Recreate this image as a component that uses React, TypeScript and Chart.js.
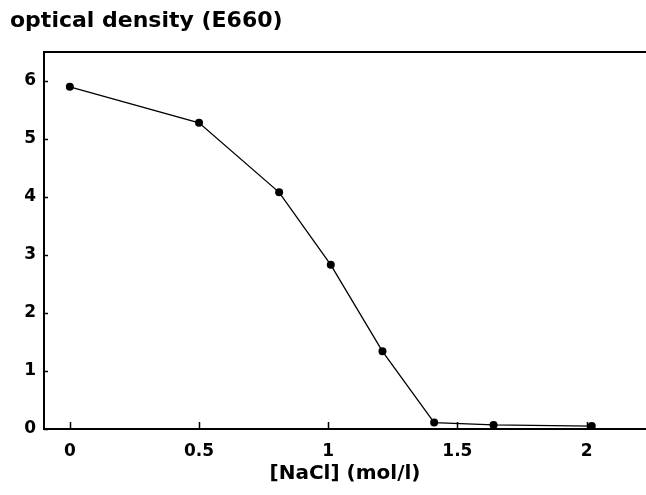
import React, { useEffect, useRef } from "react";
import { Chart, registerables } from "chart.js";

Chart.register(...registerables);

// ---- data ----
const naclConcentration = [0, 0.5, 0.81, 1.01, 1.21, 1.41, 1.64, 2.02];
const opticalDensity = [5.9, 5.28, 4.08, 2.83, 1.34, 0.11, 0.07, 0.05];

const xTickValues = [0, 0.5, 1, 1.5, 2];
const xTickLabels = ["0", "0.5", "1", "1.5", "2"];
const yTickValues = [0, 1, 2, 3, 4, 5, 6];
const yTickLabels = ["0", "1", "2", "3", "4", "5", "6"];

const chartTitle = "optical density (E660)";
const xAxisTitle = "[NaCl] (mol/l)";

const FONT = "'DejaVu Sans', 'Liberation Sans', Arial, sans-serif";

const framePlugin = {
  id: "frameAndInwardTicks",
  afterDraw(chart: any) {
    const { ctx, chartArea, scales } = chart;
    ctx.save();
    ctx.strokeStyle = "#000";
    ctx.lineWidth = 2;
    ctx.beginPath();
    ctx.moveTo(chartArea.left - 1, chartArea.top);
    ctx.lineTo(chart.width, chartArea.top);
    ctx.stroke();

    ctx.lineWidth = 1.5;
    ctx.beginPath();
    for (const v of xTickValues) {
      const px = Math.round(scales.x.getPixelForValue(v)) + 0.5;
      ctx.moveTo(px, chartArea.bottom);
      ctx.lineTo(px, chartArea.bottom - 7);
    }
    for (const v of yTickValues) {
      const py = Math.round(scales.y.getPixelForValue(v)) + 0.5;
      ctx.moveTo(chartArea.left, py);
      ctx.lineTo(chartArea.left + 4, py);
    }
    ctx.stroke();
    ctx.restore();
  },
};

const CANVAS_W = 636;
const CANVAS_H = 479;

export default function App() {
  const canvasRef = useRef<HTMLCanvasElement | null>(null);

  useEffect(() => {
    document.body.style.marginRight = "0px";
    const canvas = canvasRef.current;
    if (!canvas) return;

    const chart = new Chart(canvas, {
      type: "line",
      data: {
        datasets: [
          {
            data: naclConcentration.map((x, i) => ({ x, y: opticalDensity[i] })),
            borderColor: "#000",
            backgroundColor: "#000",
            borderWidth: 1.3,
            pointRadius: 4,
            pointBorderWidth: 0,
            pointBackgroundColor: "#000",
            tension: 0,
            fill: false,
          },
        ],
      },
      options: {
        responsive: false,
        animation: false,
        devicePixelRatio: 1,
        layout: { padding: 0, autoPadding: false },
        plugins: {
          legend: { display: false },
          tooltip: { enabled: false },
          title: {
            display: true,
            text: chartTitle,
            align: "start",
            color: "#000",
            font: { family: FONT, size: 22, weight: "bold" },
            padding: { top: 0, bottom: 17.6 },
          },
        },
        scales: {
          x: {
            type: "linear",
            min: -0.1,
            max: 2.23,
            afterBuildTicks: (scale: any) => {
              scale.ticks = xTickValues.map((v) => ({ value: v }));
            },
            afterFit: (scale: any) => {
              scale.height = 58;
            },
            ticks: {
              color: "#000",
              padding: 12,
              maxRotation: 0,
              autoSkip: false,
              font: { family: FONT, size: 17, weight: "bold" },
              callback: (_v: any, i: number) => xTickLabels[i],
            },
            grid: { display: false, drawTicks: false },
            border: { display: true, color: "#000", width: 2 },
            title: {
              display: true,
              text: xAxisTitle,
              color: "#000",
              font: { family: FONT, size: 20, weight: "bold" },
              padding: { top: 0, bottom: 1 },
            },
          },
          y: {
            type: "linear",
            min: 0,
            max: 6.5,
            afterBuildTicks: (scale: any) => {
              scale.ticks = yTickValues.map((v) => ({ value: v }));
            },
            afterFit: (scale: any) => {
              scale.width = 34;
            },
            ticks: {
              color: "#000",
              padding: 8,
              autoSkip: false,
              font: { family: FONT, size: 17, weight: "bold" },
              callback: (_v: any, i: number) => yTickLabels[i],
            },
            grid: { display: false, drawTicks: false },
            border: { display: true, color: "#000", width: 2 },
          },
        },
      },
      plugins: [framePlugin],
    });

    return () => chart.destroy();
  }, []);

  return (
    <div style={{ width: CANVAS_W, height: CANVAS_H, marginLeft: 2 }}>
      <canvas
        ref={canvasRef}
        width={CANVAS_W}
        height={CANVAS_H}
        style={{ display: "block", width: CANVAS_W, height: CANVAS_H }}
      />
    </div>
  );
}
